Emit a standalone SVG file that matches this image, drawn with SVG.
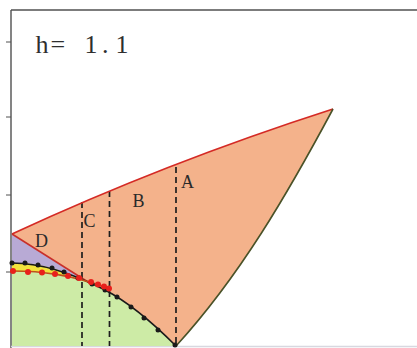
<svg xmlns="http://www.w3.org/2000/svg" width="417" height="348" viewBox="0 0 417 348">
<style>
.lbl{font-family:"Liberation Serif","Times New Roman",serif;font-size:18px;fill:#2a2a2a;text-anchor:middle}
.dash{stroke:#1e1e1e;stroke-width:1.7;stroke-dasharray:6 4;fill:none}
.bd{fill:#1a1a1a}
.rd{fill:#e8201c}
</style>
<rect x="0" y="0" width="417" height="348" fill="#ffffff"/>
<g id="frame" stroke="#505050" fill="none">
<line x1="11" y1="10" x2="417" y2="10" stroke-width="1.6"/>
<line x1="11" y1="10" x2="11" y2="348" stroke-width="1.4"/>
<line x1="6" y1="42" x2="11" y2="42"/>
<line x1="6" y1="117" x2="11" y2="117"/>
<line x1="6" y1="195" x2="11" y2="195"/>
<line x1="6" y1="272" x2="11" y2="272"/>
<line x1="11" y1="346.5" x2="417" y2="346.5" stroke="#d8d8e0" stroke-width="1.5"/>
</g>
<text id="title" x="35.5 50.5 70 84.5 102 115.5" y="53" font-family="Liberation Serif,Times New Roman,serif" font-size="26" fill="#2e2e2e">h= 1.1</text>
<g id="regionA">
<path d="M12,234 Q165,163 333,109 C288,193 240,276 176,346 C155,325 130,303 105,290 L91,284 Z" fill="#f4b28b"/>
</g>
<g id="regionD">
<path d="M12,234 L91,284 L78,278 L64,272 L52,268 L38,265 L25,263 L12,263 Z" fill="#b8aad5"/>
</g>
<g id="regionGreen">
<path d="M12,263 C40,263 70,272 105,290 C130,303 155,325 176,346 L12,346 Z" fill="#cdeba6"/>
</g>
<g id="regionYellow">
<path d="M12,263 L25,263 L38,265 L52,268 L64,272 L72,275 L64,275.5 L55,274 L42,272 L28,272 L12,271 Z" fill="#f2e33c"/>
</g>
<g id="connectors">
<line class="dash" x1="82" y1="202" x2="82" y2="346"/>
<line class="dash" x1="109.5" y1="191" x2="109.5" y2="346"/>
<line class="dash" x1="176" y1="167" x2="176" y2="346"/>
<path d="M12,234 Q165,163 333,109" fill="none" stroke="#d42a25" stroke-width="1.8"/>
<path d="M333,109 C288,193 240,276 176,346" fill="none" stroke="#4a5228" stroke-width="1.6"/>
<line x1="12" y1="234" x2="92" y2="284.5" stroke="#c8302a" stroke-width="1.6"/>
<path d="M12,263 C40,263 70,272 105,290 C130,303 155,325 176,346" fill="none" stroke="#1a1a1a" stroke-width="1.6"/>
<path d="M12,271 C40,271 70,274 110,289" fill="none" stroke="#c0501c" stroke-width="1.6"/>
</g>
<g id="blackDots">
<circle class="bd" cx="12" cy="263" r="2.5"/>
<circle class="bd" cx="25" cy="263" r="2.5"/>
<circle class="bd" cx="38" cy="265" r="2.5"/>
<circle class="bd" cx="52" cy="268" r="2.5"/>
<circle class="bd" cx="64" cy="272" r="2.5"/>
<circle class="bd" cx="78" cy="278" r="2.5"/>
<circle class="bd" cx="92" cy="284" r="2.5"/>
<circle class="bd" cx="105" cy="290" r="2.5"/>
<circle class="bd" cx="117" cy="297" r="2.5"/>
<circle class="bd" cx="131" cy="307" r="2.5"/>
<circle class="bd" cx="144" cy="318" r="2.5"/>
<circle class="bd" cx="158" cy="330" r="2.5"/>
<circle class="bd" cx="175" cy="345" r="2.5"/>
</g>
<g id="redDots">
<circle class="rd" cx="13" cy="271" r="3"/>
<circle class="rd" cx="28" cy="272" r="3"/>
<circle class="rd" cx="42" cy="272.5" r="3"/>
<circle class="rd" cx="55" cy="274" r="3"/>
<circle class="rd" cx="68" cy="276" r="3"/>
<circle class="rd" cx="79" cy="278" r="3"/>
<circle class="rd" cx="91" cy="282" r="3"/>
<circle class="rd" cx="98" cy="284.5" r="3"/>
<circle class="rd" cx="104" cy="286.5" r="3"/>
<circle class="rd" cx="109" cy="288.5" r="3"/>
</g>
<g id="labels">
<text class="lbl" x="187.5" y="188">A</text>
<text class="lbl" x="138.5" y="207">B</text>
<text class="lbl" x="89.5" y="227">C</text>
<text class="lbl" x="41.5" y="247">D</text>
</g>
</svg>
